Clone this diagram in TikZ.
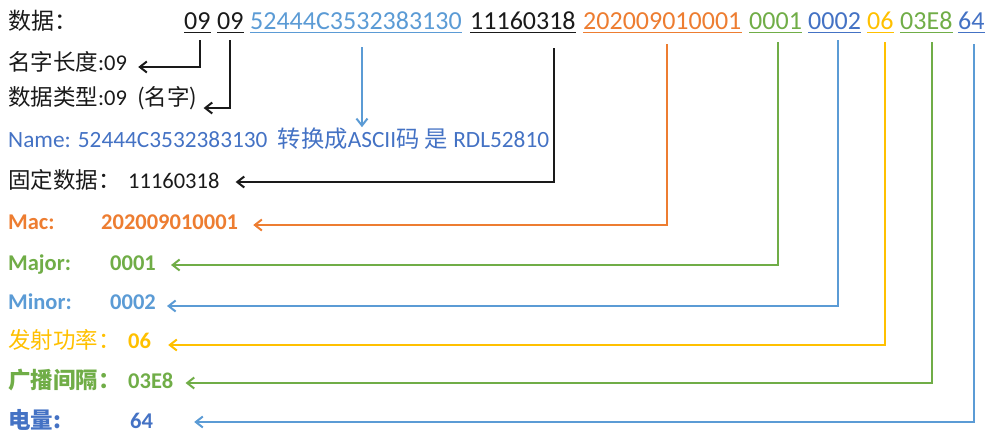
\documentclass[tikz,border=0pt]{standalone}
\usepackage{fontspec}
\setmainfont{Carlito}
\newfontfamily\cjk{Noto Sans CJK SC}
\usetikzlibrary{arrows.meta}
\definecolor{cOrange}{HTML}{ED7D31}
\definecolor{cGreen}{HTML}{70AD47}
\definecolor{cLBlue}{HTML}{5B9BD5}
\definecolor{cDBlue}{HTML}{4472C4}
\definecolor{cYellow}{HTML}{FFC000}
\definecolor{cText}{HTML}{1A1A1A}
\begin{document}
\begin{tikzpicture}[x=1pt,y=-1pt,
  toptxt/.style={inner sep=0pt, anchor=base west, text=cText, font=\fontsize{26}{28}\selectfont},
  rowtxt/.style={inner sep=0pt, anchor=base west, text=cText, font=\fontsize{22.5}{24}\selectfont},
  boldtxt/.style={rowtxt, font=\fontsize{22.5}{24}\selectfont\bfseries},
  ul/.style={line width=1.3pt},
  link/.style={line width=2pt, -{Straight Barb[length=7pt,width=11pt,line width=2pt]}},
]
\useasboundingbox (0,0) rectangle (990,434);

% ---------- top row ----------
\node[toptxt, font=\fontsize{23}{26}\selectfont\cjk] (hd) at (8,29) {数据：};
\node[toptxt] (t1) at (184,29) {09};
\node[toptxt] (t2) at (217,29) {09};
\node[toptxt, text=cLBlue] (t3) at (250,29) {52444C3532383130};
\node[toptxt] (t4) at (470,29) {11160318};
\node[toptxt, text=cOrange] (t5) at (583,29) {202009010001};
\node[toptxt, text=cGreen] (t6) at (749,29) {0001};
\node[toptxt, text=cDBlue] (t7) at (808,29) {0002};
\node[toptxt, text=cYellow] (t8) at (867,29) {06};
\node[toptxt, text=cGreen] (t9) at (900,29) {03E8};
\node[toptxt, text=cDBlue] (t10) at (958,29) {64};

\foreach \n/\c in {t1/cText,t2/cText,t3/cLBlue,t4/cText,t5/cOrange,t6/cGreen,t7/cDBlue,t8/cYellow,t9/cGreen,t10/cDBlue}
  \draw[ul, draw=\c] ([yshift=-3.5pt]\n.base west) -- ([yshift=-3.5pt]\n.base east);

% ---------- rows ----------
\node[rowtxt] (r1) at (8,70) {{\cjk 名字长度}:09};
\node[rowtxt] (r2) at (8,105) {{\cjk 数据类型}:09~~{\cjk (名字)}};
\node[rowtxt, text=cDBlue, font=\fontsize{23.3}{25}\selectfont] (nm) at (8,147) {Name: 52444C3532383130~~{\cjk 转换成}ASCII{\cjk 码 是} RDL52810};
\node[rowtxt] (r4l) at (8,188) {{\cjk 固定数据：}};
\node[rowtxt] (r4) at (128,188) {11160318};
\node[boldtxt, text=cOrange] (r5l) at (8,229) {Mac:};
\node[boldtxt, text=cOrange] (r5) at (101,229) {202009010001};
\node[boldtxt, text=cGreen] (r6l) at (8,270) {Major:};
\node[boldtxt, text=cGreen] (r6) at (110,270) {0001};
\node[boldtxt, text=cLBlue] (r7l) at (8,309) {Minor:};
\node[boldtxt, text=cLBlue] (r7) at (110,309) {0002};
\node[rowtxt, text=cYellow] (r8l) at (8,348) {{\cjk 发射功率：}};
\node[boldtxt, text=cYellow] (r8) at (128,348) {06};
\node[boldtxt, text=cGreen] (r9l) at (8,388) {{\cjk\bfseries 广播间隔：}};
\node[boldtxt, text=cGreen] (r9) at (128,388) {03E8};
\node[boldtxt, text=cDBlue] (r10l) at (8,428) {{\cjk\bfseries 电量:}};
\node[boldtxt, text=cDBlue] (r10) at (130,428) {64};

% ---------- connectors ----------
\draw[link, draw=cText] ([xshift=2.5pt,yshift=-11pt]t1.base) |- ([xshift=11pt,yshift=3pt]r1.base east);
\draw[link, draw=cText] ([xshift=0pt,yshift=-11pt]t2.base) |- ([xshift=6pt,yshift=-3pt]r2.base east);
\draw[link, draw=cLBlue, line width=1.6pt] ([xshift=6pt,yshift=-18pt]t3.base) -- ([xshift=6pt]t3.base |- nm.north) ;
\draw[link, draw=cText] ([xshift=31pt,yshift=-19pt]t4.base) |- ([xshift=16pt,yshift=6pt]r4.base east);
\draw[link, draw=cOrange] ([xshift=4.5pt,yshift=-15pt]t5.base) |- ([xshift=15pt,yshift=4pt]r5.base east);
\draw[link, draw=cGreen] ([xshift=2pt,yshift=-13pt]t6.base) |- ([xshift=15pt,yshift=5pt]r6.base east);
\draw[link, draw=cLBlue] ([xshift=3pt,yshift=-11pt]t7.base) |- ([xshift=11pt,yshift=3pt]r7.base east);
\draw[link, draw=cYellow] ([xshift=5pt,yshift=-13pt]t8.base) |- ([xshift=17pt,yshift=3pt]r8.base east);
\draw[link, draw=cGreen] ([xshift=6pt,yshift=-13pt]t9.base) |- ([xshift=12pt,yshift=5pt]r9.base east);
\draw[link, draw=cLBlue] ([xshift=2.5pt,yshift=-15pt]t10.base) |- ([xshift=41pt,yshift=6pt]r10.base east);
\end{tikzpicture}
\end{document}
